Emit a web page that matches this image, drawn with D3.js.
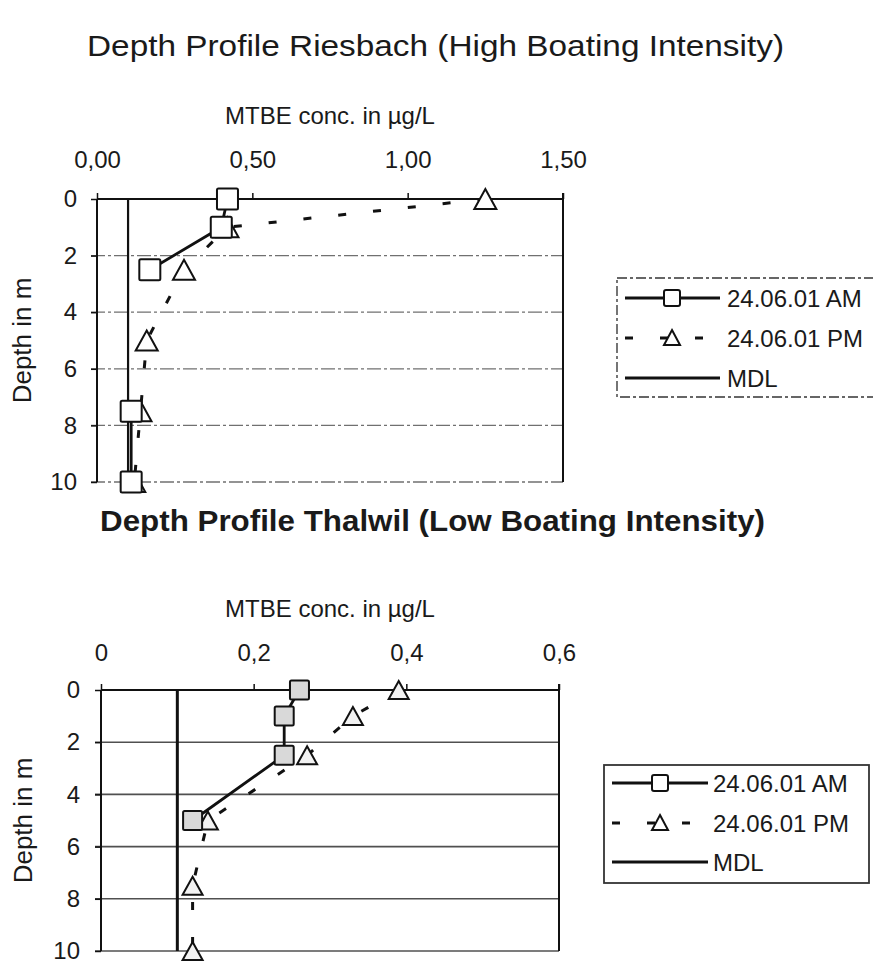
<!DOCTYPE html>
<html>
<head>
<meta charset="utf-8">
<script src="https://cdn.jsdelivr.net/npm/d3@7"></script>
<style>
  html, body { margin: 0; padding: 0; background: #fff; }
  svg { display: block; }
  text { font-family: "Liberation Sans", Arial, sans-serif; fill: #1a1a1a; }
</style>
</head>
<body>
<svg id="chart" width="873" height="965"></svg>
<script>
// ---------- DATA ----------
const seriesNames = ["24.06.01 AM", "24.06.01 PM", "MDL"];
const depthTicks = [0, 2, 4, 6, 8, 10];

// Riesbach (High Boating Intensity)
const riesTitle = "Depth Profile Riesbach (High Boating Intensity)";
const riesDepths = [0, 1, 2.5, 5, 7.5, 10];
const riesAM = [0.42, 0.40, 0.17, null, 0.11, 0.11];
const riesPM = [1.25, 0.42, 0.28, 0.16, 0.14, 0.12];
const riesMDL = 0.10;
const riesXTicks = [0, 0.5, 1.0, 1.5];
const riesXTickLabels = ["0,00", "0,50", "1,00", "1,50"];

// Thalwil (Low Boating Intensity)
const thalTitle = "Depth Profile Thalwil (Low Boating Intensity)";
const thalDepths = [0, 1, 2.5, 5, 7.5, 10];
const thalAM = [0.26, 0.24, 0.24, 0.12, null, null];
const thalPM = [0.39, 0.33, 0.27, 0.14, 0.12, 0.12];
const thalMDL = 0.10;
const thalXTicks = [0, 0.2, 0.4, 0.6];
const thalXTickLabels = ["0", "0,2", "0,4", "0,6"];

const xAxisTitle = "MTBE conc. in µg/L";
const yAxisTitle = "Depth in m";

// ---------- DRAWING ----------
const svg = d3.select("#chart");

function drawPanel(p) {
  const g = svg.append("g");
  const x = d3.scaleLinear().domain([p.xTicks[0], p.xTicks[p.xTicks.length - 1]]).range([p.left, p.right]);
  const y = d3.scaleLinear().domain([0, 10]).range([p.top, p.bottom]);

  // title
  g.append("text").attr("x", p.titleX).attr("y", p.titleY)
    .attr("font-size", p.titleSize).attr("font-weight", p.titleWeight)
    .attr("textLength", p.titleLen).attr("lengthAdjust", "spacingAndGlyphs")
    .text(p.title);

  // axis title
  g.append("text").attr("x", (p.left + p.right) / 2).attr("y", p.axisTitleY)
    .attr("text-anchor", "middle").attr("font-size", 24).text(xAxisTitle);

  // y title
  g.append("text").attr("transform", `translate(${p.yTitleX},${(p.top + p.bottom) / 2}) rotate(-90)`)
    .attr("text-anchor", "middle").attr("dy", "0.35em").attr("font-size", 26).text(yAxisTitle);

  // gridlines
  g.selectAll(".grid").data(depthTicks.filter(d => d > 0)).join("line")
    .attr("x1", p.left - 6).attr("x2", p.right)
    .attr("y1", d => y(d)).attr("y2", d => y(d))
    .attr("stroke", p.gridColor).attr("stroke-width", p.gridWidth)
    .attr("stroke-dasharray", p.gridDash);

  // top axis (frame top) with ticks
  const xAxis = d3.axisTop(x).tickValues(p.xTicks).tickSize(6).tickFormat((d, i) => p.xTickLabels[i]);
  const xa = g.append("g").attr("transform", `translate(0,${p.top})`).call(xAxis);
  xa.select(".domain").attr("stroke", "#111").attr("stroke-width", 2).attr("d", `M${p.left},0H${p.right}`);
  xa.selectAll(".tick line").attr("stroke", "#111").attr("stroke-width", 1.5);
  xa.selectAll(".tick text").attr("font-size", 24).attr("y", p.tickLabelY - p.top).attr("dy", "0.35em")
    .attr("fill", "#1a1a1a").attr("font-family", "Liberation Sans, Arial, sans-serif");

  // left axis
  const yAxis = d3.axisLeft(y).tickValues(depthTicks).tickSize(6).tickFormat(d3.format("d"));
  const ya = g.append("g").attr("transform", `translate(${p.left},0)`).call(yAxis);
  ya.select(".domain").attr("stroke", "#111").attr("stroke-width", 2).attr("d", `M0,${p.top}V${p.bottom}`);
  ya.selectAll(".tick line").attr("stroke", "#111").attr("stroke-width", 1.5);
  ya.selectAll(".tick text").attr("font-size", 24).attr("x", p.yLabelRight - p.left).attr("dy", "0.32em")
    .attr("fill", "#1a1a1a").attr("font-family", "Liberation Sans, Arial, sans-serif");

  // right border
  g.append("line").attr("x1", p.right).attr("x2", p.right).attr("y1", p.top - 6).attr("y2", p.bottom)
    .attr("stroke", "#111").attr("stroke-width", 2);

  // MDL line
  g.append("line").attr("x1", x(p.mdl)).attr("x2", x(p.mdl)).attr("y1", y(0)).attr("y2", y(10))
    .attr("stroke", "#111").attr("stroke-width", p.mdlWidth);

  const amPts = p.depths.map((d, i) => ({ d, v: p.am[i] }));
  const pmPts = p.depths.map((d, i) => ({ d, v: p.pm[i] }));
  const line = d3.line().defined(q => q.v !== null).x(q => x(q.v)).y(q => y(q.d));

  // PM dashed line
  g.append("path").datum(pmPts).attr("d", line).attr("fill", "none")
    .attr("stroke", "#111").attr("stroke-width", 3).attr("stroke-dasharray", "8,27");
  // AM solid line
  g.append("path").datum(amPts).attr("d", line).attr("fill", "none")
    .attr("stroke", "#111").attr("stroke-width", 2.8);

  // triangles
  const tw = p.triW, th = p.triH;
  g.selectAll(".tri").data(pmPts.filter(q => q.v !== null)).join("path")
    .attr("d", q => `M${x(q.v)},${y(q.d) - th / 2}L${x(q.v) + tw / 2},${y(q.d) + th / 2}L${x(q.v) - tw / 2},${y(q.d) + th / 2}Z`)
    .attr("fill", p.triFill).attr("stroke", "#111").attr("stroke-width", 2);
  // squares
  const s = p.sq;
  g.selectAll(".sq").data(amPts.filter(q => q.v !== null)).join("rect")
    .attr("x", q => x(q.v) - s / 2).attr("y", q => y(q.d) - s / 2)
    .attr("width", s).attr("height", s).attr("rx", 1.5)
    .attr("fill", p.sqFill).attr("stroke", "#111").attr("stroke-width", 2);

  // legend
  const L = p.legend;
  g.append("rect").attr("x", L.x).attr("y", L.y).attr("width", L.w).attr("height", L.h)
    .attr("fill", "none").attr("stroke", L.stroke).attr("stroke-width", 1.8).attr("stroke-dasharray", L.dash);
  const rows = L.rows;
  // AM
  g.append("line").attr("x1", L.lx1).attr("x2", L.lx2).attr("y1", rows[0]).attr("y2", rows[0])
    .attr("stroke", "#111").attr("stroke-width", 2.8);
  g.append("rect").attr("x", L.mx - 8).attr("y", rows[0] - 8).attr("width", 16).attr("height", 16).attr("rx", 2)
    .attr("fill", "#fff").attr("stroke", "#111").attr("stroke-width", 2);
  // PM
  g.append("line").attr("x1", L.lx1).attr("x2", L.lx2).attr("y1", rows[1]).attr("y2", rows[1])
    .attr("stroke", "#111").attr("stroke-width", 3).attr("stroke-dasharray", "8,27");
  g.append("path").attr("d", `M${L.mx},${rows[1] - 8}L${L.mx + 8},${rows[1] + 7}L${L.mx - 8},${rows[1] + 7}Z`)
    .attr("fill", "#fff").attr("stroke", "#111").attr("stroke-width", 2);
  // MDL
  g.append("line").attr("x1", L.lx1).attr("x2", L.lx2).attr("y1", rows[2]).attr("y2", rows[2])
    .attr("stroke", "#111").attr("stroke-width", 2.8);
  g.selectAll(".legtext").data(seriesNames).join("text")
    .attr("x", L.tx).attr("y", (d, i) => rows[i]).attr("dy", "0.36em").attr("font-size", 24).text(d => d);
}

drawPanel({
  title: riesTitle, titleX: 87, titleY: 56, titleSize: 30, titleWeight: "normal", titleLen: 697,
  axisTitleY: 124, tickLabelY: 160, yTitleX: 22, yLabelRight: 77,
  left: 97, right: 563, top: 199, bottom: 482,
  xTicks: riesXTicks, xTickLabels: riesXTickLabels,
  depths: riesDepths, am: riesAM, pm: riesPM, mdl: riesMDL, mdlWidth: 2.2,
  gridColor: "#707070", gridWidth: 1.3, gridDash: "14,3,3,3",
  sq: 21, sqFill: "#fff", triW: 22, triH: 20, triFill: "#fff",
  legend: { x: 617, y: 278, w: 270, h: 119, stroke: "#666", dash: "10,3,3,3",
            rows: [298, 338, 378], lx1: 625, lx2: 720, mx: 672, tx: 727 }
});

drawPanel({
  title: thalTitle, titleX: 100, titleY: 531, titleSize: 29, titleWeight: "bold", titleLen: 665,
  axisTitleY: 617, tickLabelY: 653, yTitleX: 23, yLabelRight: 80,
  left: 101, right: 559, top: 690, bottom: 951,
  xTicks: thalXTicks, xTickLabels: thalXTickLabels,
  depths: thalDepths, am: thalAM, pm: thalPM, mdl: thalMDL, mdlWidth: 3,
  gridColor: "#505050", gridWidth: 1.6, gridDash: null,
  sq: 19, sqFill: "#d9d9d9", triW: 20, triH: 18, triFill: "#f2f2f2",
  legend: { x: 604, y: 765, w: 265, h: 118, stroke: "#333", dash: null,
            rows: [783, 823, 862], lx1: 612, lx2: 708, mx: 660, tx: 713 }
});
</script>
</body>
</html>
